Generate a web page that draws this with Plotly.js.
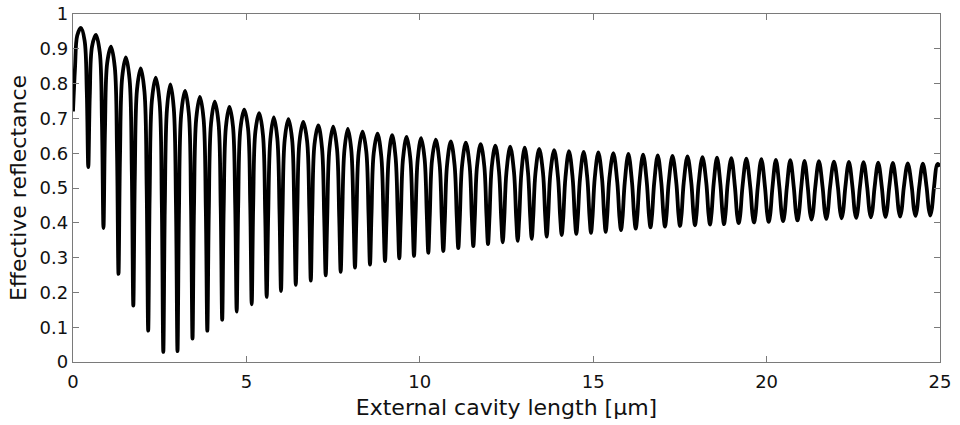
<!DOCTYPE html>
<html>
<head>
<meta charset="utf-8">
<script src="https://cdn.plot.ly/plotly-3.0.1.min.js"></script>
<style>
  html, body { margin: 0; padding: 0; background: #ffffff; }
  #chart { width: 960px; height: 425px; }
</style>
</head>
<body>
<div id="chart"></div>
<script>
// External cavity length [µm] (x) and effective reflectance (y):
// per fringe: shoulder, steep flank, trough, steep flank, shoulder, peak.
const lengthUm = [
  0, 0.058, 0.122, 0.228,
  0.334, 0.398, 0.441, 0.484, 0.548, 0.66,
  0.772, 0.836, 0.879, 0.922, 0.986, 1.095,
  1.205, 1.269, 1.312, 1.355, 1.419, 1.525,
  1.632, 1.696, 1.739, 1.782, 1.846, 1.953,
  2.061, 2.125, 2.168, 2.211, 2.275, 2.386,
  2.497, 2.561, 2.604, 2.647, 2.711, 2.808,
  2.906, 2.970, 3.013, 3.056, 3.120, 3.23,
  3.339, 3.403, 3.446, 3.489, 3.553, 3.66,
  3.766, 3.830, 3.873, 3.916, 3.980, 4.088,
  4.195, 4.259, 4.302, 4.345, 4.409, 4.511,
  4.613, 4.677, 4.720, 4.763, 4.827, 4.937,
  5.046, 5.110, 5.153, 5.196, 5.260, 5.369,
  5.478, 5.542, 5.585, 5.628, 5.692, 5.79,
  5.891, 5.955, 5.998, 6.041, 6.105, 6.211,
  6.317, 6.381, 6.424, 6.467, 6.531, 6.64,
  6.750, 6.814, 6.857, 6.900, 6.964, 7.072,
  7.180, 7.244, 7.287, 7.330, 7.394, 7.503,
  7.612, 7.676, 7.719, 7.762, 7.826, 7.925,
  8.024, 8.088, 8.131, 8.174, 8.238, 8.348,
  8.457, 8.521, 8.564, 8.607, 8.671, 8.78,
  8.890, 8.954, 8.997, 9.040, 9.104, 9.203,
  9.302, 9.366, 9.409, 9.452, 9.516, 9.621,
  9.726, 9.790, 9.833, 9.876, 9.940, 10.039,
  10.138, 10.202, 10.245, 10.288, 10.352, 10.46,
  10.571, 10.635, 10.678, 10.721, 10.785, 10.894,
  11.003, 11.067, 11.110, 11.153, 11.217, 11.327,
  11.436, 11.500, 11.543, 11.586, 11.650, 11.755,
  11.860, 11.924, 11.967, 12.010, 12.074, 12.179,
  12.284, 12.348, 12.391, 12.434, 12.498, 12.607,
  12.716, 12.780, 12.823, 12.866, 12.930, 13.025,
  13.120, 13.184, 13.227, 13.270, 13.334, 13.443,
  13.552, 13.616, 13.659, 13.702, 13.766, 13.875,
  13.985, 14.049, 14.092, 14.135, 14.199, 14.302,
  14.406, 14.470, 14.513, 14.556, 14.620, 14.725,
  14.830, 14.894, 14.937, 14.980, 15.044, 15.148,
  15.253, 15.317, 15.360, 15.403, 15.467, 15.581,
  15.695, 15.759, 15.802, 15.845, 15.909, 16.014,
  16.119, 16.183, 16.226, 16.269, 16.333, 16.439,
  16.545, 16.609, 16.652, 16.695, 16.759, 16.861,
  16.963, 17.027, 17.070, 17.113, 17.177, 17.286,
  17.396, 17.460, 17.503, 17.546, 17.610, 17.719,
  17.828, 17.892, 17.935, 17.978, 18.042, 18.151,
  18.261, 18.325, 18.368, 18.411, 18.475, 18.57,
  18.665, 18.729, 18.772, 18.815, 18.879, 18.983,
  19.088, 19.152, 19.195, 19.238, 19.302, 19.416,
  19.530, 19.594, 19.637, 19.680, 19.744, 19.849,
  19.954, 20.018, 20.061, 20.104, 20.168, 20.268,
  20.369, 20.433, 20.476, 20.519, 20.583, 20.683,
  20.784, 20.848, 20.891, 20.934, 20.998, 21.093,
  21.188, 21.252, 21.295, 21.338, 21.402, 21.508,
  21.615, 21.679, 21.722, 21.765, 21.829, 21.942,
  22.056, 22.120, 22.163, 22.206, 22.270, 22.373,
  22.476, 22.540, 22.583, 22.626, 22.690, 22.795,
  22.900, 22.964, 23.007, 23.050, 23.114, 23.218,
  23.322, 23.386, 23.429, 23.472, 23.536, 23.64,
  23.743, 23.807, 23.850, 23.893, 23.957, 24.071,
  24.186, 24.250, 24.293, 24.336, 24.400, 24.506,
  24.613, 24.677, 24.720, 24.763, 24.827, 24.93, 25.0
];
const reflectance = [
  0.72, 0.845, 0.938, 0.96,
  0.924, 0.776, 0.56, 0.765, 0.906, 0.94,
  0.890, 0.685, 0.385, 0.666, 0.859, 0.906,
  0.847, 0.606, 0.253, 0.589, 0.819, 0.875,
  0.811, 0.547, 0.162, 0.530, 0.783, 0.844,
  0.776, 0.497, 0.09, 0.483, 0.752, 0.817,
  0.746, 0.455, 0.029, 0.444, 0.729, 0.798,
  0.729, 0.445, 0.031, 0.435, 0.712, 0.779,
  0.715, 0.451, 0.067, 0.442, 0.699, 0.762,
  0.698, 0.439, 0.09, 0.432, 0.685, 0.748,
  0.688, 0.447, 0.121, 0.439, 0.675, 0.733,
  0.677, 0.451, 0.145, 0.447, 0.670, 0.725,
  0.672, 0.457, 0.166, 0.451, 0.663, 0.715,
  0.652, 0.425, 0.187, 0.419, 0.641, 0.703,
  0.643, 0.429, 0.204, 0.426, 0.639, 0.698,
  0.641, 0.436, 0.222, 0.433, 0.634, 0.69,
  0.635, 0.439, 0.234, 0.435, 0.626, 0.68,
  0.615, 0.413, 0.249, 0.411, 0.612, 0.676,
  0.613, 0.417, 0.259, 0.415, 0.608, 0.67,
  0.610, 0.423, 0.271, 0.420, 0.603, 0.662,
  0.605, 0.425, 0.28, 0.423, 0.600, 0.656,
  0.590, 0.411, 0.29, 0.409, 0.587, 0.652,
  0.588, 0.415, 0.298, 0.413, 0.584, 0.647,
  0.585, 0.418, 0.305, 0.417, 0.582, 0.643,
  0.584, 0.423, 0.314, 0.421, 0.580, 0.639,
  0.569, 0.409, 0.319, 0.407, 0.565, 0.634,
  0.566, 0.413, 0.327, 0.412, 0.563, 0.63,
  0.565, 0.416, 0.333, 0.415, 0.562, 0.626,
  0.563, 0.419, 0.339, 0.418, 0.560, 0.622,
  0.547, 0.411, 0.344, 0.410, 0.545, 0.619,
  0.546, 0.413, 0.348, 0.412, 0.544, 0.616,
  0.545, 0.417, 0.354, 0.416, 0.542, 0.612,
  0.544, 0.420, 0.36, 0.420, 0.542, 0.609,
  0.531, 0.414, 0.365, 0.413, 0.529, 0.606,
  0.530, 0.416, 0.368, 0.415, 0.528, 0.604,
  0.529, 0.418, 0.371, 0.417, 0.528, 0.602,
  0.529, 0.420, 0.374, 0.419, 0.528, 0.6,
  0.516, 0.414, 0.379, 0.414, 0.515, 0.598,
  0.516, 0.417, 0.383, 0.417, 0.515, 0.596,
  0.517, 0.420, 0.387, 0.420, 0.515, 0.594,
  0.516, 0.422, 0.389, 0.421, 0.515, 0.592,
  0.516, 0.423, 0.391, 0.423, 0.515, 0.591,
  0.516, 0.425, 0.393, 0.424, 0.515, 0.589,
  0.515, 0.426, 0.395, 0.426, 0.514, 0.587,
  0.514, 0.427, 0.396, 0.426, 0.514, 0.586,
  0.502, 0.421, 0.399, 0.421, 0.501, 0.584,
  0.502, 0.423, 0.401, 0.423, 0.501, 0.583,
  0.502, 0.425, 0.403, 0.424, 0.501, 0.581,
  0.502, 0.426, 0.405, 0.426, 0.501, 0.58,
  0.502, 0.428, 0.407, 0.428, 0.501, 0.578,
  0.502, 0.429, 0.409, 0.429, 0.501, 0.577,
  0.502, 0.431, 0.411, 0.431, 0.502, 0.576,
  0.503, 0.433, 0.413, 0.432, 0.502, 0.575,
  0.503, 0.433, 0.414, 0.433, 0.502, 0.574,
  0.503, 0.435, 0.416, 0.435, 0.502, 0.573,
  0.503, 0.436, 0.417, 0.436, 0.502, 0.572,
  0.503, 0.436, 0.418, 0.436, 0.502, 0.571,
  0.503, 0.438, 0.42, 0.438, 0.502, 0.57,
  0.503, 0.439, 0.421, 0.439, 0.502, 0.569, 0.562
];
const xTickValues = [0, 5, 10, 15, 20, 25];
const xTickLabels = ["0", "5", "10", "15", "20", "25"];
const yTickValues = [0, 0.1, 0.2, 0.3, 0.4, 0.5, 0.6, 0.7, 0.8, 0.9, 1];
const yTickLabels = ["0", "0.1", "0.2", "0.3", "0.4", "0.5", "0.6", "0.7", "0.8", "0.9", "1"];
const xTitle = "External cavity length [µm]";
const yTitle = "Effective reflectance";

const frameColor = "#7a7a7a";
const fontFamily = "DejaVu Sans, Arial, sans-serif";

const trace = {
  x: lengthUm,
  y: reflectance,
  type: "scatter",
  mode: "lines",
  line: { color: "#000000", width: 3.8, shape: "spline", smoothing: 1 },
  hoverinfo: "skip",
  showlegend: false
};

const axisCommon = {
  showgrid: false,
  zeroline: false,
  showline: true,
  linecolor: frameColor,
  linewidth: 1.2,
  mirror: "ticks",
  ticks: "inside",
  ticklen: 6,
  tickwidth: 1,
  tickcolor: frameColor,
  tickfont: { family: fontFamily, size: 18, color: "#111111" },
  tickmode: "array",
  fixedrange: true
};

const layout = {
  width: 960,
  height: 425,
  margin: { l: 73, r: 20, t: 14, b: 63 },
  paper_bgcolor: "#ffffff",
  plot_bgcolor: "#ffffff",
  font: { family: fontFamily, color: "#111111" },
  xaxis: Object.assign({}, axisCommon, {
    range: [0, 25],
    tickvals: xTickValues,
    ticktext: xTickLabels,
    ticklabelstandoff: 3,
    title: { text: xTitle, font: { family: fontFamily, size: 22, color: "#111111" }, standoff: 8 }
  }),
  yaxis: Object.assign({}, axisCommon, {
    range: [0, 1],
    tickvals: yTickValues,
    ticktext: yTickLabels,
    title: { text: yTitle, font: { family: fontFamily, size: 22, color: "#111111" }, standoff: 6 }
  })
};

Plotly.newPlot("chart", [trace], layout, { staticPlot: true, displayModeBar: false });
</script>
</body>
</html>
